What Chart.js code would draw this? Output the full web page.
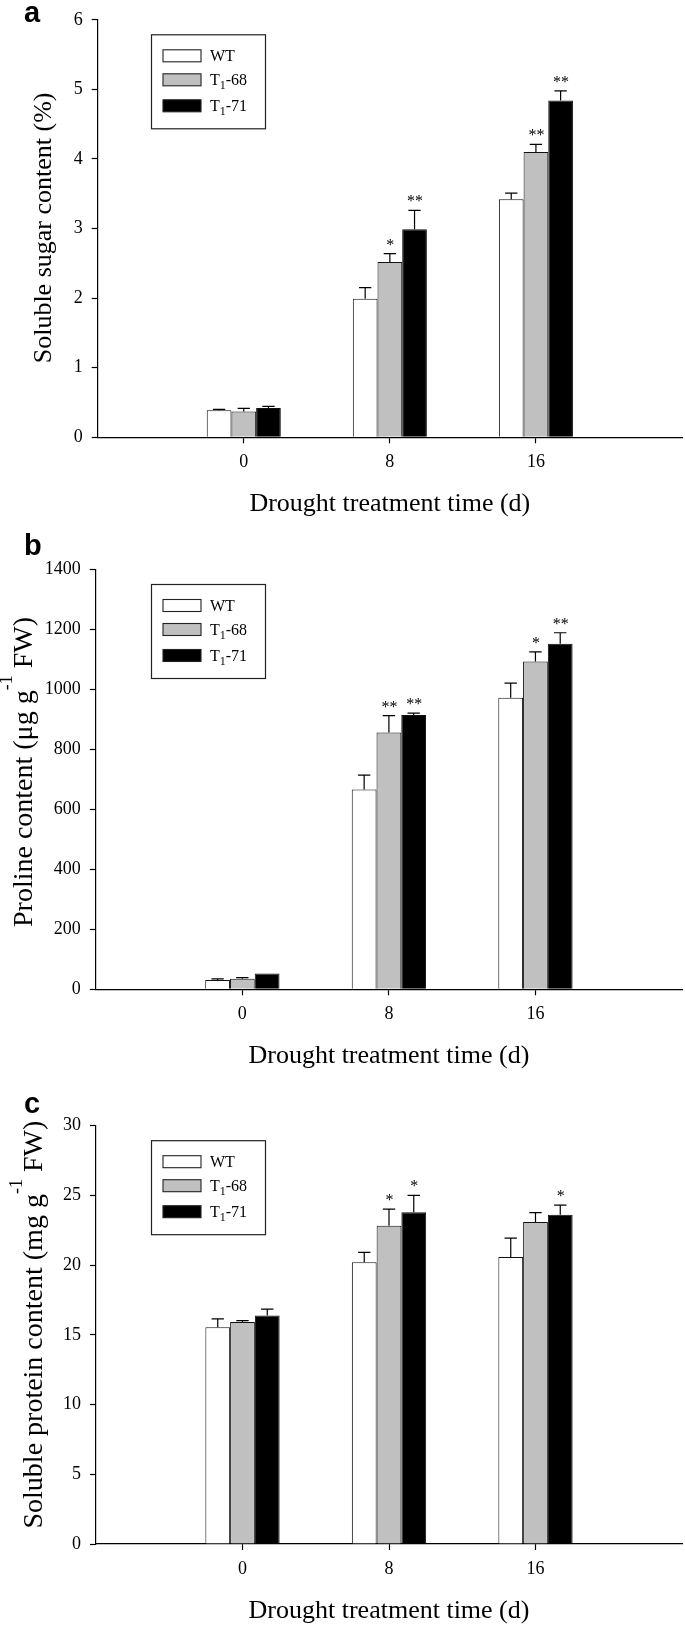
<!DOCTYPE html>
<html>
<head>
<meta charset="utf-8">
<script src="https://cdn.jsdelivr.net/npm/chart.js@4.4.1/dist/chart.umd.min.js"></script>
<style>
html, body { margin: 0; padding: 0; background: #fff; width: 685px; height: 1630px; overflow: hidden; }
.pan { position: absolute; left: 0; width: 685px; }
canvas { display: block; }
</style>
</head>
<body>
<div class="pan" style="top:0px;height:530px"><canvas id="ca" width="685" height="530"></canvas></div>
<div class="pan" style="top:530px;height:550px"><canvas id="cb" width="685" height="550"></canvas></div>
<div class="pan" style="top:1080px;height:550px"><canvas id="cc" width="685" height="550"></canvas></div>
<script>
// ---------------- DATA ----------------
const categories = ['0', '8', '16'];
const seriesLabels = ['WT', 'T1-68', 'T1-71'];
const xTitle = 'Drought treatment time (d)';

// (a) Soluble sugar content (%)
const sugarWT  = [0.39, 1.99, 3.42];
const sugarT68 = [0.37, 2.52, 4.10];
const sugarT71 = [0.42, 2.99, 4.84];
const sugarErrWT  = [0.01, 0.16, 0.09];
const sugarErrT68 = [0.045, 0.12, 0.11];
const sugarErrT71 = [0.025, 0.27, 0.14];
const sugarSigWT  = ['', '', ''];
const sugarSigT68 = ['', '*', '**'];
const sugarSigT71 = ['', '**', '**'];
const sugarTicks = [0, 1, 2, 3, 4, 5, 6];

// (b) Proline content (ug g-1 FW)
const prolineWT  = [31, 666, 972];
const prolineT68 = [35.5, 856, 1093];
const prolineT71 = [53, 915, 1152];
const prolineErrWT  = [3.5, 48, 49];
const prolineErrT68 = [3.4, 57, 32];
const prolineErrT71 = [0, 6, 37];
const prolineSigWT  = ['', '', ''];
const prolineSigT68 = ['', '**', '*'];
const prolineSigT71 = ['', '**', '**'];
const prolineTicks = [0, 200, 400, 600, 800, 1000, 1200, 1400];

// (c) Soluble protein content (mg g-1 FW)
const proteinWT  = [15.54, 20.21, 20.59];
const proteinT68 = [15.92, 22.82, 23.10];
const proteinT71 = [16.39, 23.80, 23.62];
const proteinErrWT  = [0.6, 0.7, 1.35];
const proteinErrT68 = [0.1, 1.2, 0.67];
const proteinErrT71 = [0.45, 1.2, 0.68];
const proteinSigWT  = ['', '', ''];
const proteinSigT68 = ['', '*', ''];
const proteinSigT71 = ['', '*', '*'];
const proteinTicks = [0, 5, 10, 15, 20, 25, 30];

// ---------------- STYLE ----------------
const SERIF = '"Liberation Serif", "Times New Roman", serif';
const SANS = '"Liberation Sans", Arial, sans-serif';
const fills = ['#ffffff', '#c0c0c0', '#000000'];

// rich text helper: parts = [[text, shift]], shift>0 superscript raise, <0 subscript drop
function drawRich(ctx, parts, x, y, mainFont, smallFont) {
  let cx = x;
  parts.forEach(([t, k]) => {
    ctx.font = k === 0 ? mainFont : smallFont;
    ctx.fillText(t, cx, y - k);
    cx += ctx.measureText(t).width;
  });
}
function legendParts(label) {
  const m = label.match(/^T(\d)(.*)$/);
  return m ? [['T', 0], [m[1], -4], [m[2], 0]] : [[label, 0]];
}

const decor = {
  id: 'decor',
  afterDatasetsDraw(chart) {
    const ctx = chart.ctx;
    const ys = chart.scales.y;
    ctx.save();
    chart.data.datasets.forEach((ds, i) => {
      const meta = chart.getDatasetMeta(i);
      meta.data.forEach((bar, j) => {
        const v = ds.data[j].y, e = ds.errors[j];
        const top = ys.getPixelForValue(v + e);
        const capW = bar.width * 0.5;
        if (e > 0) {
          ctx.strokeStyle = '#000';
          ctx.lineWidth = 1.2;
          ctx.beginPath();
          ctx.moveTo(bar.x, bar.y);
          ctx.lineTo(bar.x, top);
          ctx.moveTo(bar.x - capW / 2, top);
          ctx.lineTo(bar.x + capW / 2, top);
          ctx.stroke();
        }
        const s = ds.sig[j];
        if (s) {
          ctx.fillStyle = '#000';
          ctx.font = '16px ' + SERIF;
          ctx.textAlign = 'center';
          ctx.textBaseline = 'alphabetic';
          ctx.fillText(s, bar.x + 0.5, top - 4);
        }
      });
    });
    ctx.restore();
  },
  afterDraw(chart, args, o) {
    const ctx = chart.ctx;
    const ca = chart.chartArea;
    ctx.save();
    ctx.fillStyle = '#000';
    // panel letter
    ctx.font = 'bold 29px ' + SANS;
    ctx.textAlign = 'left';
    ctx.textBaseline = 'alphabetic';
    ctx.fillText(o.letter, 24, o.letterY);
    // legend
    const lx = 151.5, ly = ca.top + 15, lw = 114, lh = 94;
    ctx.strokeStyle = '#222';
    ctx.lineWidth = 1.2;
    ctx.fillStyle = '#fff';
    ctx.fillRect(lx, ly, lw, lh);
    ctx.strokeRect(lx, ly, lw, lh);
    const rows = [21, 45, 71];
    chart.data.datasets.forEach((ds, i) => {
      const cy = ly + rows[i];
      ctx.fillStyle = ds.backgroundColor;
      ctx.fillRect(lx + 11.5, cy - 6, 38, 12);
      ctx.strokeStyle = '#222';
      ctx.lineWidth = 1.1;
      ctx.strokeRect(lx + 11.5, cy - 6, 38, 12);
      ctx.fillStyle = '#000';
      ctx.textBaseline = 'alphabetic';
      drawRich(ctx, legendParts(ds.label), lx + 58.5, cy + 5.5, '16px ' + SERIF, '12px ' + SERIF);
    });
    // x title
    ctx.fillStyle = '#000';
    ctx.font = '26px ' + SERIF;
    ctx.textAlign = 'center';
    ctx.textBaseline = 'alphabetic';
    ctx.fillText(xTitle, (ca.left + ca.right) / 2, ca.bottom + 74);
    // y title (rotated)
    ctx.save();
    ctx.translate(o.yTitleX, o.yTitleStart);
    ctx.rotate(-Math.PI / 2);
    ctx.textAlign = 'left';
    drawRich(ctx, o.yTitle, 0, 0, o.yTitleFont + 'px ' + SERIF, '18px ' + SERIF);
    ctx.restore();
    ctx.restore();
  }
};

function makeDataset(label, vals, errs, sig, fill) {
  return {
    label: label,
    data: vals.map((v, i) => ({ x: i + 1, y: v })),
    errors: errs,
    sig: sig,
    backgroundColor: fill,
    borderColor: '#111',
    borderWidth: 1,
    borderSkipped: 'bottom',
    categoryPercentage: 0.507,
    barPercentage: 1.0
  };
}

function makePanel(id, cfg) {
  const axisCommon = {
    grid: { display: true, drawOnChartArea: false, drawTicks: true, tickLength: 6, tickColor: '#000', tickWidth: 1.2, offset: false },
    border: { display: true, color: '#000', width: 1.2 }
  };
  new Chart(document.getElementById(id), {
    type: 'bar',
    data: { datasets: cfg.datasets },
    plugins: [decor],
    options: {
      responsive: false,
      animation: false,
      devicePixelRatio: 1,
      layout: { padding: { top: cfg.padTop, right: 3, left: 0, bottom: 0 } },
      plugins: {
        legend: { display: false },
        tooltip: { enabled: false },
        decor: cfg.decor
      },
      scales: {
        x: Object.assign({}, axisCommon, {
          type: 'linear', min: 0, max: categories.length + 1, offset: false,
          ticks: {
            color: '#000', font: { family: SERIF, size: 18 }, padding: 8,
            maxRotation: 0, autoSkip: false,
            callback: (v) => categories[v - 1] !== undefined ? categories[v - 1] : ''
          },
          afterBuildTicks: (s) => { s.ticks = categories.map((c, i) => ({ value: i + 1 })); },
          afterFit: (s) => { s.height = cfg.xAxisH; }
        }),
        y: Object.assign({}, axisCommon, {
          type: 'linear', min: cfg.ticks[0], max: cfg.ticks[cfg.ticks.length - 1],
          ticks: {
            color: '#000', font: { family: SERIF, size: 18 }, padding: 9,
            callback: (v) => String(v)
          },
          afterBuildTicks: (s) => { s.ticks = cfg.ticks.map(v => ({ value: v })); },
          afterFit: (s) => { s.width = cfg.yAxisW; }
        })
      }
    }
  });
}

makePanel('ca', {
  padTop: 19.5, xAxisH: 530 - 437.3, yAxisW: 97.7, ticks: sugarTicks,
  datasets: [
    makeDataset(seriesLabels[0], sugarWT, sugarErrWT, sugarSigWT, fills[0]),
    makeDataset(seriesLabels[1], sugarT68, sugarErrT68, sugarSigT68, fills[1]),
    makeDataset(seriesLabels[2], sugarT71, sugarErrT71, sugarSigT71, fills[2])
  ],
  decor: { letter: 'a', letterY: 22, yTitleX: 51, yTitleStart: 363.3, yTitleFont: 26,
           yTitle: [['Soluble sugar content (%)', 0]] }
});

makePanel('cb', {
  padTop: 39.5, xAxisH: 550 - 459.3, yAxisW: 95.8, ticks: prolineTicks,
  datasets: [
    makeDataset(seriesLabels[0], prolineWT, prolineErrWT, prolineSigWT, fills[0]),
    makeDataset(seriesLabels[1], prolineT68, prolineErrT68, prolineSigT68, fills[1]),
    makeDataset(seriesLabels[2], prolineT71, prolineErrT71, prolineSigT71, fills[2])
  ],
  decor: { letter: 'b', letterY: 25, yTitleX: 31.5, yTitleStart: 397, yTitleFont: 28,
           yTitle: [['Proline content (\u03BCg g', 0], ['-1', 20], [' FW)', 0]] }
});

makePanel('cc', {
  padTop: 45.7, xAxisH: 550 - 464, yAxisW: 96, ticks: proteinTicks,
  datasets: [
    makeDataset(seriesLabels[0], proteinWT, proteinErrWT, proteinSigWT, fills[0]),
    makeDataset(seriesLabels[1], proteinT68, proteinErrT68, proteinSigT68, fills[1]),
    makeDataset(seriesLabels[2], proteinT71, proteinErrT71, proteinSigT71, fills[2])
  ],
  decor: { letter: 'c', letterY: 33, yTitleX: 42, yTitleStart: 448.5, yTitleFont: 28,
           yTitle: [['Soluble protein content (mg g', 0], ['-1', 20], [' FW)', 0]] }
});
</script>
</body>
</html>
